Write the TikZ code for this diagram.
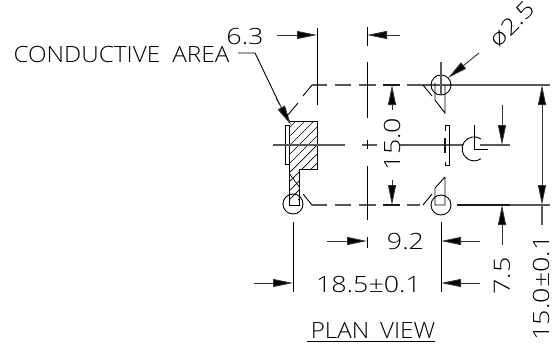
\documentclass[tikz,border=0pt]{standalone}
\usepackage{graphicx}
\usepackage{fontspec}
\setmainfont{Open Sans Light}
\usetikzlibrary{arrows.meta}
\newcommand{\wide}[2]{\scalebox{#1}[1]{#2}}
\tikzset{
  ln/.style={line width=0.9pt,black},
  cl/.style={line width=1.1pt,black!65},
  hv/.style={line width=1.1pt,black!90},
  dimar/.style={line width=0.9pt,black!80,-{Triangle[length=20pt,width=8pt,fill=black]}},
  cad/.style={inner sep=0pt,outer sep=0pt,font=\fontsize{22.4}{24}\selectfont,text=black},
}
\begin{document}
\begin{tikzpicture}[x=1pt,y=-1pt]
\useasboundingbox (0,0) rectangle (552,343);
% labels
\node[cad,anchor=center] (cond) at (121.5,54) {\wide{1.085}{CONDUCTIVE\hspace{0.5em}AREA}};
\node[cad,anchor=center] (d63) at (245,36) {\wide{1.2}{6.3}};
\node[cad,anchor=center] (d92) at (405.5,241) {\wide{1.2}{9.2}};
\node[cad,anchor=center] (d185) at (368.5,284) {\wide{1.2}{18.5±0.1}};
\node[cad,anchor=center] (plan) at (373,330) {\wide{1.08}{PLAN\hspace{0.45em}VIEW}};
\node[cad,anchor=center,rotate=90] (d15) at (392,144) {\wide{1.2}{15.0}};
\node[cad,anchor=center,rotate=90] (d75) at (502,276) {\wide{1.2}{7.5}};
\node[cad,anchor=center,rotate=90] (d150) at (541,288) {\wide{1.2}{15.0±0.1}};
\node[cad,anchor=center,rotate=45] (phi) at (512,24) {\wide{1.2}{ø2.5}};
\draw[ln] (307,341) -- (435,341);
% hatching
\begin{scope}
\clip (289,121) -- (317,121) -- (317,169) -- (299,169) -- (299,205) -- (289,205) -- cycle;
\foreach \c in {300,309,...,530} \draw[line width=0.7pt,black] (\c-200,200) -- (\c-100,100);
\draw[line width=0.7pt,black] (289,173) -- (300,188);
\end{scope}
% part left
\draw[ln] (289,121) -- (317,121) -- (317,169) -- (299,169) -- (299,205) -- (289,205) -- (289,125);
\draw[ln] (289,125) -- (285,125) -- (285,164) -- (289,164);
\draw[ln] (293,204) circle (10);
% leader
\draw[ln] (238,53) -- (255,53) -- (280,105);
\draw[dimar] (276,98) -- (291,125);
% top/bottom dashed outlines
\draw[ln] (287,116) -- (298,103) (303,96) -- (312,85);
\draw[cl] (312,85) -- (327,85) (335,85) -- (351,85) (359,85) -- (376,85);
\draw[hv] (383,85) -- (400,85);
\draw[ln] (303,194) -- (312,205);
\draw[cl] (312,205) -- (327,205) (335,205) -- (351,205) (359,205) -- (376,205);
\draw[hv] (383,205) -- (400,205);
% centre line
\draw[cl] (273,145) -- (345,145) (362,145) -- (377,145) (400,145) -- (463,145) (480,145) -- (510,145);
% extension lines
\draw[ln] (317,28) -- (317,105);
\draw[ln] (367,27) -- (367,46) (367,62) -- (367,118) (367,140) -- (367,149) (367,166) -- (367,220) (367,237) -- (367,248);
\draw[ln] (293,222) -- (293,292);
\draw[ln] (441,222) -- (441,292);
% top dims
\draw[dimar] (277,35) -- (317,35);
\draw[dimar] (400,35) -- (367,35);
\draw[dimar] (327,241) -- (367,241);
\draw[dimar] (480,241) -- (441,241);
\draw[dimar] (254,283) -- (293,283);
\draw[dimar] (480,283) -- (441,283);
% 15.0 arrows
\draw[dimar] (392,110) -- (392,85);
\draw[dimar] (392,180) -- (392,205);
% right dims
\draw[cl] (407,85) -- (550,85);
\draw[cl] (407,205) -- (420,205);
\draw[cl] (457,205) -- (550,205);
\draw[hv] (457,205) -- (510,205);
\draw[dimar] (502,105) -- (502,145);
\draw[dimar] (502,245) -- (502,205);
\draw[dimar] (542,145) -- (542,85);
\draw[dimar] (542,145) -- (542,205);
\draw[cl] (542,205) -- (542,225);
% pins
\draw[ln] (441,85) circle (10);
\draw[ln] (441,205) circle (10);
\draw[cl] (441,62) -- (441,95);
\draw[ln] (423,85) -- (432,96);
\draw[ln] (435,83) -- (435,100) -- (445,113) (445,85) -- (445,114);
\draw[ln] (445,131) -- (445,125) -- (449,125) -- (449,165) -- (445,165) -- (445,162);
\draw[hv] (445,138) -- (445,153);
\draw[ln] (445,177) -- (435,188) -- (435,205) -- (445,205) (445,177) -- (445,205);
\draw[ln] (423,205) -- (432,194);
% phi leader
\draw[dimar] (479,53) -- (448,78);
% C mark
\draw[ln] (481,139) arc[start angle=-55,end angle=-305,radius=12];
\draw[ln] (474,125) -- (474,149) -- (488,149);
\end{tikzpicture}
\end{document}
